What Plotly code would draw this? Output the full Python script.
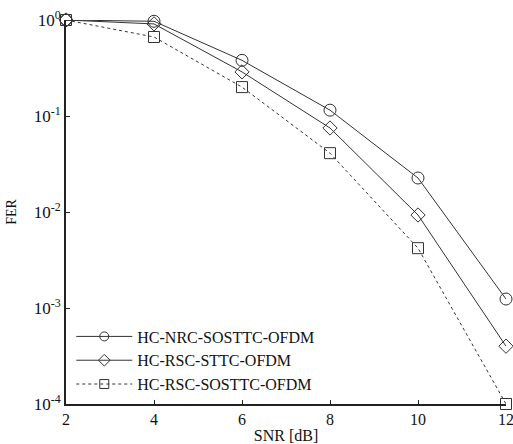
import plotly.graph_objects as go

snr = [2, 4, 6, 8, 10, 12]
fer_nrc_sosttc = [1.0, 0.97, 0.38, 0.115, 0.0226, 0.00124]
fer_rsc_sttc = [1.0, 0.91, 0.288, 0.075, 0.0093, 0.0004]
fer_rsc_sosttc = [1.0, 0.665, 0.2, 0.041, 0.0042, 0.0001]
names = ["HC-NRC-SOSTTC-OFDM", "HC-RSC-STTC-OFDM", "HC-RSC-SOSTTC-OFDM"]
ytick_vals = [1e-4, 1e-3, 1e-2, 1e-1, 1]
ytick_text = ["10<sup>-4</sup>", "10<sup>-3</sup>", "10<sup>-2</sup>", "10<sup>-1</sup>", "10<sup>0</sup>"]
xtick_vals = [2, 4, 6, 8, 10, 12]

col = "#333333"
fig = go.Figure()
series = [
    (fer_nrc_sosttc, "circle-open", "solid", 12),
    (fer_rsc_sttc, "diamond-open", "solid", 11),
    (fer_rsc_sosttc, "square-open", "dot", 11),
]
for (vals, sym, dash, sz), nm in zip(series, names):
    fig.add_trace(go.Scatter(
        x=snr, y=vals, name=nm, mode="lines+markers", showlegend=False,
        line=dict(color=col, width=1, dash=dash),
        marker=dict(symbol=sym, size=sz, color=col, line=dict(width=1, color=col)),
        cliponaxis=False,
    ))
# legend entries with smaller symbols, as in the reference
for (vals, sym, dash, sz), nm in zip(series, names):
    fig.add_trace(go.Scatter(
        x=[None], y=[None], name=nm, mode="lines+markers",
        line=dict(color=col, width=1, dash=dash),
        marker=dict(symbol=sym, size=9, color=col, line=dict(width=1, color=col)),
    ))

font = "Liberation Serif, Times New Roman, serif"
fig.update_layout(
    width=513, height=444,
    margin=dict(l=66, r=7, t=20, b=40),
    plot_bgcolor="white", paper_bgcolor="white",
    font=dict(family=font, size=16, color="#111111"),
    showlegend=True,
    legend=dict(x=0.012, y=0.22, xanchor="left", yanchor="top",
                bgcolor="rgba(0,0,0,0)", itemwidth=56,
                font=dict(size=16, family=font), tracegroupgap=0),
    xaxis=dict(range=[2, 12], tickvals=xtick_vals, ticks="inside", ticklen=4,
               tickcolor="#222", showline=True, linecolor="#222", linewidth=2,
               showgrid=False, zeroline=False, tickfont=dict(size=16),
               ticklabeloverflow="allow", automargin=False,
               title=dict(text="SNR [dB]", font=dict(size=16), standoff=3)),
    yaxis=dict(type="log", range=[-4, 0], tickvals=ytick_vals, ticktext=ytick_text,
               ticks="inside", ticklen=4, tickcolor="#222", showline=True,
               linecolor="#222", linewidth=2, showgrid=False, zeroline=False,
               tickfont=dict(size=17), ticklabeloverflow="allow", automargin=False,
               title=dict(text="FER", font=dict(size=14), standoff=14)),
)
fig.write_html("out.html")
